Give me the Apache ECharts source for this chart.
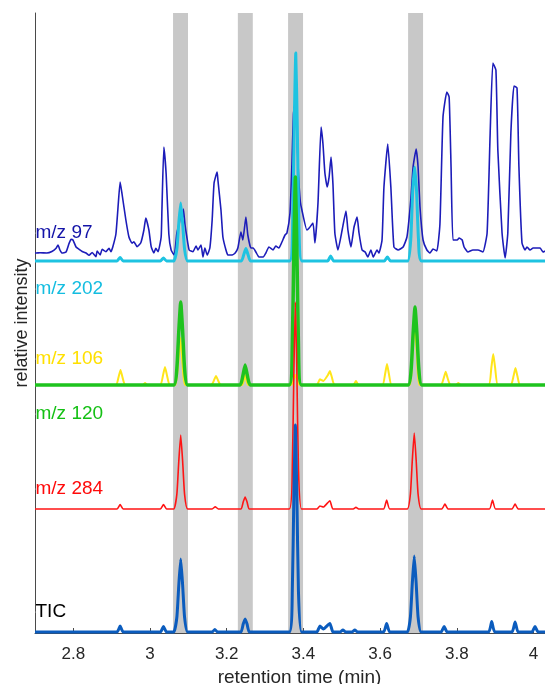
<!DOCTYPE html>
<html>
<head>
<meta charset="utf-8">
<script src="https://cdn.jsdelivr.net/npm/echarts@6/dist/echarts.min.js"></script>
<style>
html,body{margin:0;padding:0;background:#fff;}
#chart{width:545px;height:684px;}
</style>
</head>
<body>
<div id="chart"></div>
<script>
// ---- data ----
const xTicks = [2.8, 3.0, 3.2, 3.4, 3.6, 3.8, 4.0];
const traceNames = ['m/z 97', 'm/z 202', 'm/z 106', 'm/z 120', 'm/z 284', 'TIC'];
const baselines = [379, 372, 248, 248, 124, 1];
const labelLevels = [400, 344, 274, 219, 144, 21];
const bands = [[3.060, 3.099], [3.229, 3.268], [3.360, 3.399], [3.673, 3.712]];

const mz97 = [[2.700,1],[2.703,1],[2.713,1.3],[2.731,1],[2.744,2.5],[2.755,5.7],[2.760,9],[2.765,4],[2.770,1],[2.781,2],[2.789,10.7],[2.794,14.7],[2.799,14],[2.807,7],[2.815,4.7],[2.823,2.5],[2.833,1],[2.841,-1.3],[2.849,1.5],[2.859,-2.7],[2.862,3],[2.870,-1],[2.875,4.7],[2.885,2.3],[2.893,5.7],[2.898,2.3],[2.903,7.3],[2.911,20],[2.916,44],[2.922,72],[2.927,60],[2.937,34],[2.945,17],[2.953,10.7],[2.958,12.3],[2.966,7.3],[2.976,11.3],[2.984,24],[2.989,36],[2.997,24],[3.003,7.3],[3.010,1],[3.015,5.7],[3.021,2.3],[3.029,17],[3.031,44],[3.036,107],[3.042,80],[3.049,20],[3.055,4],[3.063,-1],[3.070,21],[3.076,30],[3.080,40],[3.084,34],[3.087,45],[3.091,30],[3.096,17],[3.102,4],[3.112,2.3],[3.120,8],[3.125,4],[3.133,9],[3.138,-3],[3.143,6],[3.149,-1],[3.156,6],[3.162,34],[3.167,71],[3.175,82],[3.177,74],[3.185,44],[3.190,17],[3.198,4],[3.203,-1],[3.214,-1],[3.222,1],[3.229,6],[3.237,22],[3.242,14],[3.250,37],[3.255,19],[3.263,6],[3.269,6],[3.276,2],[3.284,-3],[3.295,-3],[3.302,1],[3.310,7],[3.321,4],[3.328,8],[3.336,6],[3.344,12],[3.352,19],[3.357,21],[3.365,41],[3.370,90],[3.374,140],[3.378,150],[3.382,130],[3.387,80],[3.392,52],[3.396,44],[3.409,24],[3.415,26],[3.425,31],[3.430,11],[3.438,51],[3.446,127],[3.451,110],[3.456,81],[3.462,67],[3.467,77],[3.472,97],[3.477,70],[3.482,21],[3.490,4],[3.501,24],[3.511,43],[3.516,24],[3.524,7],[3.532,27],[3.540,37],[3.545,21],[3.553,4],[3.561,2],[3.568,-3],[3.576,4],[3.582,-3],[3.592,4],[3.597,1],[3.605,14],[3.610,67],[3.620,110],[3.628,67],[3.636,7],[3.647,4],[3.660,7],[3.670,17],[3.680,54],[3.686,87],[3.694,105],[3.699,87],[3.704,47],[3.712,14],[3.722,4],[3.730,1],[3.738,5],[3.748,3],[3.756,30],[3.764,137],[3.774,162],[3.780,157],[3.785,87],[3.790,14],[3.801,14],[3.806,16],[3.814,14],[3.819,7],[3.829,2],[3.842,4],[3.855,4],[3.868,2],[3.879,21],[3.887,121],[3.894,191],[3.902,184],[3.907,104],[3.918,21],[3.926,-4],[3.933,21],[3.941,121],[3.949,168],[3.957,166],[3.962,87],[3.970,11],[3.978,4],[3.983,7],[3.991,4],[3.999,6],[4.009,6],[4.017,6],[4.025,2],[4.030,3]];

const mz202 = [[2.700,0],[2.914,0],[2.922,3.5],[2.930,0],[3.027,0],[3.035,3],[3.043,0],[3.062,0],[3.070,12],[3.075,38],[3.080,58],[3.085,38],[3.090,12],[3.098,0],[3.238,0],[3.245,7],[3.250,12.5],[3.255,7],[3.262,0],[3.364,0],[3.372,42],[3.376,135],[3.380,208],[3.384,135],[3.388,42],[3.396,0],[3.463,0],[3.471,5],[3.479,0],[3.611,0],[3.619,4],[3.627,0],[3.672,0],[3.680,22],[3.685,70],[3.690,94],[3.695,70],[3.700,22],[3.708,0],[4.030,0]];

const mz106 = [[2.700,0],[2.911,0],[2.918,8],[2.923,15],[2.928,8],[2.935,0],[2.981,0],[2.987,2],[2.993,0],[3.027,0],[3.034,10],[3.039,18],[3.044,10],[3.051,0],[3.066,0],[3.073,20],[3.079,47],[3.085,20],[3.092,0],[3.160,0],[3.167,5],[3.172,9],[3.177,5],[3.184,0],[3.240,0],[3.248,10],[3.256,0],[3.368,0],[3.379,10],[3.390,0],[3.435,0],[3.443,5.7],[3.452,4],[3.464,10],[3.469,14],[3.474,8],[3.481,0],[3.530,0],[3.537,4],[3.544,0],[3.606,0],[3.613,11],[3.618,21],[3.623,11],[3.630,0],[3.677,0],[3.684,30],[3.690,62],[3.696,30],[3.703,0],[3.759,0],[3.766,7],[3.771,13.3],[3.776,7],[3.783,0],[3.798,0],[3.804,2],[3.810,0],[3.883,0],[3.890,17],[3.895,31],[3.900,17],[3.907,0],[3.941,0],[3.948,9],[3.953,17],[3.958,9],[3.965,0],[4.030,0]];

const mz120 = [[2.700,0],[3.062,0],[3.070,17],[3.075,54],[3.080,83],[3.085,54],[3.090,17],[3.098,0],[3.235,0],[3.242,9],[3.248,20],[3.254,9],[3.261,0],[3.363,0],[3.371,41],[3.375,135],[3.379,208],[3.383,135],[3.387,41],[3.395,0],[3.673,0],[3.681,16],[3.686,51],[3.691,78],[3.696,51],[3.701,16],[3.709,0],[4.030,0]];

const mz284 = [[2.700,0],[2.914,0],[2.922,4.5],[2.930,0],[3.027,0],[3.035,4.5],[3.043,0],[3.062,0],[3.070,15],[3.075,48],[3.080,74],[3.085,48],[3.090,15],[3.098,0],[3.162,0],[3.170,2.3],[3.178,0],[3.237,0],[3.243,7],[3.248,12],[3.253,7],[3.259,0],[3.363,0],[3.371,41],[3.375,135],[3.379,207],[3.383,135],[3.387,41],[3.395,0],[3.435,0],[3.443,3],[3.452,2],[3.469,8.3],[3.477,0],[3.530,0],[3.537,1.7],[3.544,0],[3.609,0],[3.617,9],[3.625,0],[3.671,0],[3.679,15],[3.684,49],[3.689,76],[3.694,49],[3.699,15],[3.707,0],[3.761,0],[3.769,5],[3.777,0],[3.885,0],[3.893,9],[3.901,0],[3.944,0],[3.952,5],[3.960,0],[4.030,0]];

const tic = [[2.700,0],[2.914,0],[2.922,6],[2.930,0],[3.027,0],[3.035,5.5],[3.043,0],[3.062,0],[3.070,15],[3.075,47],[3.080,73],[3.085,47],[3.090,15],[3.098,0],[3.162,0],[3.169,2.5],[3.176,0],[3.237,0],[3.243,8],[3.248,13],[3.253,8],[3.259,0],[3.363,0],[3.371,41],[3.375,135],[3.379,207],[3.383,135],[3.387,41],[3.395,0],[3.435,0],[3.443,6],[3.452,3],[3.469,8.5],[3.477,0],[3.496,0],[3.503,2],[3.510,0],[3.527,0],[3.534,2],[3.541,0],[3.609,0],[3.617,8.5],[3.625,0],[3.671,0],[3.679,15],[3.684,49],[3.689,76],[3.694,49],[3.699,15],[3.707,0],[3.759,0],[3.767,5.5],[3.775,0],[3.883,0],[3.891,10.5],[3.899,0],[3.944,0],[3.952,10],[3.960,0],[3.996,0],[4.004,5.5],[4.012,0],[4.030,0]];

// ---- styles ----
const traces = [mz97, mz202, mz106, mz120, mz284, tic];
const lineColors = ['#1c1cb9', '#1ec3e1', '#ffe51a', '#1ec31e', '#ff1414', '#0b5cbe'];
const lineWidths = [1.6, 3, 2, 3.5, 1.6, 3];
const labelColors = ['#1414a8', '#14bde0', '#ffe000', '#14c014', '#ff0a0a', '#000000'];
const FONT = '"Liberation Sans", Arial, Helvetica, sans-serif';
const axisColor = '#4a4a4a';

const series = [];
series.push({
  type: 'line', data: [[2.7, 0]], showSymbol: false, silent: true, z: 1,
  lineStyle: { opacity: 0 },
  markArea: {
    silent: true,
    itemStyle: { color: '#c8c8c8' },
    data: bands.map(b => [{ xAxis: b[0] }, { xAxis: b[1] }])
  }
});
traces.forEach((tr, i) => {
  series.push({
    type: 'line', name: traceNames[i], silent: true, showSymbol: false,
    smooth: 0.15, z: 3 + i,
    data: tr.map(p => [p[0], p[1] + baselines[i]]),
    lineStyle: { color: lineColors[i], width: lineWidths[i], join: 'round' }
  });
});
series.push({
  type: 'scatter', silent: true, symbolSize: 1, z: 20,
  itemStyle: { color: '#ffffff', opacity: 1 },
  label: { show: true, position: 'right', distance: 0, fontSize: 19, fontFamily: FONT, opacity: 1, formatter: p => p.name },
  data: traceNames.map((n, i) => ({ name: n, value: [2.7, labelLevels[i]], label: { color: labelColors[i] } }))
});

const chart = echarts.init(document.getElementById('chart'), null, { renderer: 'canvas' });
chart.setOption({
  animation: false,
  backgroundColor: '#ffffff',
  grid: { left: 35, right: 0, top: 13, bottom: 51, containLabel: false, outerBoundsMode: 'none' },
  xAxis: {
    type: 'value', min: 2.7, max: 4.03,
    name: 'retention time (min)', nameLocation: 'middle', nameGap: 33,
    nameTextStyle: { fontSize: 19, color: '#262626', fontFamily: FONT, padding: [0, 0, 0, 19] },
    axisLine: { show: true, lineStyle: { color: axisColor, width: 1 } },
    axisTick: { show: true, inside: true, length: 5, customValues: xTicks, lineStyle: { color: axisColor } },
    axisLabel: { customValues: xTicks, margin: 13, fontSize: 17, color: '#262626', fontFamily: FONT },
    splitLine: { show: false }
  },
  yAxis: {
    type: 'value', min: 0, max: 620,
    name: 'relative intensity', nameLocation: 'middle', nameGap: 4,
    nameTextStyle: { fontSize: 18, color: '#262626', fontFamily: FONT },
    axisLine: { show: true, lineStyle: { color: axisColor, width: 1 } },
    axisTick: { show: false },
    axisLabel: { show: false },
    splitLine: { show: false }
  },
  series: series
});
</script>
</body>
</html>
